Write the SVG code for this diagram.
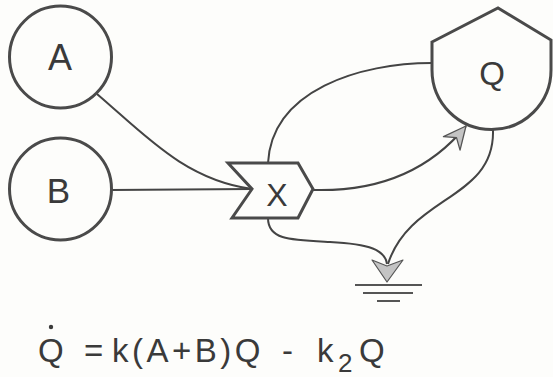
<svg xmlns="http://www.w3.org/2000/svg" width="553" height="377" viewBox="0 0 553 377">
<defs>
<style>
.node{fill:none;stroke:#4a4a4a;stroke-width:3}
.lbl{font-family:"Liberation Sans",Arial,sans-serif;fill:#3a3a3a;text-anchor:middle}
.eq{font-family:"Liberation Sans",Arial,sans-serif;fill:#3a3a3a;font-size:33px}
.wire{fill:none;stroke:#444;stroke-width:2}
.head{fill:#c4c4c4;stroke:#555;stroke-width:1.2;stroke-linejoin:round}
</style>
<marker id="arr" markerUnits="userSpaceOnUse" markerWidth="30" markerHeight="30" refX="0" refY="0" viewBox="-24 -12 28 24" orient="auto">
<path class="head" d="M0,0 L-21,-10 L-14,0 L-21,10 Z"/>
</marker>
</defs>
<rect width="553" height="377" fill="#fdfdfb"/>
<g id="connectors">
<path class="wire" d="M97,94 C145,135 185,180 252,189"/>
<path class="wire" d="M111,190 L252,189"/>
<path class="wire" d="M268,163 C272,90 360,63 432,63"/>
<path class="wire" d="M313,190 C380,192 430,170 466,126" marker-end="url(#arr)"/>
<path class="wire" d="M268,218 C268,240 290,240 330,242 C370,244 385,250 387,264"/>
<path class="wire" d="M493,130 C495,200 410,195 388,264"/>
<path class="head" d="M372,260 L387,266 L403,260 L387,282 Z"/>
</g>
<g id="sink">
<line x1="355" y1="285" x2="422" y2="285" stroke="#555" stroke-width="2"/>
<line x1="363" y1="293" x2="413" y2="293" stroke="#555" stroke-width="2"/>
<line x1="377" y1="301" x2="400" y2="301" stroke="#555" stroke-width="2"/>
</g>
<g id="A">
<circle class="node" cx="60.5" cy="57" r="51"/>
<text class="lbl" x="60" y="70" font-size="36">A</text>
</g>
<g id="B">
<circle class="node" cx="60.5" cy="189" r="51"/>
<text class="lbl" x="58.5" y="203" font-size="35">B</text>
</g>
<g id="X">
<path class="node" d="M228,163 L298,163 L313,189 L298,218 L232,218 L252,189 Z"/>
<text class="lbl" x="277" y="206" font-size="32">X</text>
</g>
<g id="Q">
<path class="node" d="M432,42 L498,8 L551,40 L551,70 A59.5,59.5 0 0 1 432,70 Z"/>
<text class="lbl" x="492" y="85" font-size="33">Q</text>
</g>
<g id="equation">
<circle cx="51" cy="327" r="2.2" fill="#3a3a3a"/>
<text class="eq" y="362"><tspan x="38">Q</tspan><tspan x="84">=</tspan><tspan x="112" letter-spacing="3.5">k(A+B)Q</tspan><tspan x="282">-</tspan><tspan x="317">k</tspan><tspan x="338" dy="10" font-size="26">2</tspan><tspan x="359" dy="-10">Q</tspan></text>
</g>
</svg>
